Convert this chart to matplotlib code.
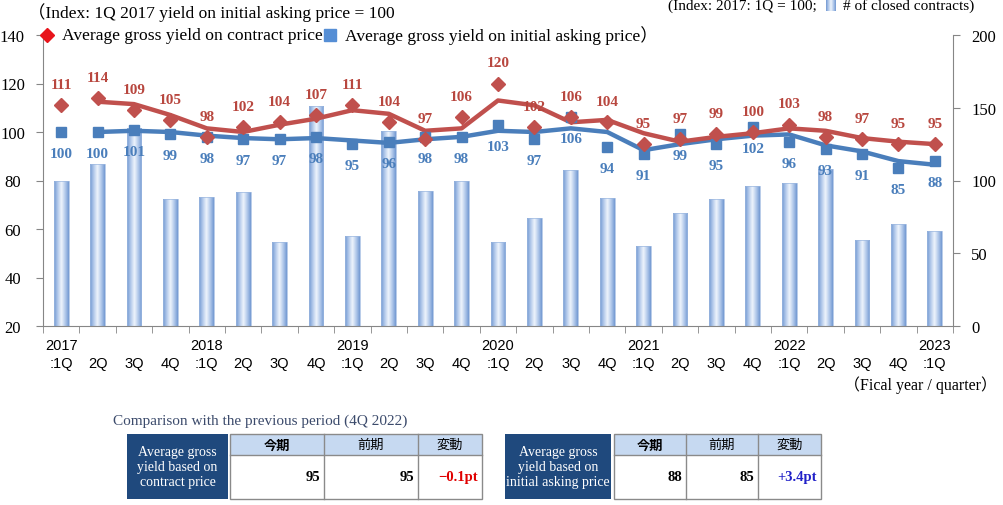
import numpy as np
import pandas as pd
import matplotlib
matplotlib.use("Agg")
import matplotlib.pyplot as plt
from matplotlib.colors import LinearSegmentedColormap
from matplotlib.patches import Rectangle
from matplotlib.ticker import FixedLocator

# ---------------- data ----------------
tick_labels = ["2017\n:1Q", "\n2Q", "\n3Q", "\n4Q",
               "2018\n:1Q", "\n2Q", "\n3Q", "\n4Q",
               "2019\n:1Q", "\n2Q", "\n3Q", "\n4Q",
               "2020\n:1Q", "\n2Q", "\n3Q", "\n4Q",
               "2021\n:1Q", "\n2Q", "\n3Q", "\n4Q",
               "2022\n:1Q", "\n2Q", "\n3Q", "\n4Q",
               "2023\n:1Q"]
contract_yield = [111, 114, 109, 105, 98, 102, 104, 107, 111, 104, 97, 106,
                  120, 102, 106, 104, 95, 97, 99, 100, 103, 98, 97, 95, 95]
asking_yield = [100, 100, 101, 99, 98, 97, 97, 98, 95, 96, 98, 98,
                103, 97, 106, 94, 91, 99, 95, 102, 96, 93, 91, 85, 88]
closed_contracts = [100, 111, 136, 87, 89, 92, 58, 151, 62, 134, 93, 100,
                    58, 74, 107, 88, 55, 78, 87, 96, 98, 108, 59, 70, 65]

table_cols = ["今期", "前期", "変動"]
contract_table = ["95", "95", "\u22120.1pt"]
asking_table = ["88", "85", "+3.4pt"]

# ---------------- style ----------------
SERIF = ["Liberation Serif", "Noto Sans CJK JP"]
SANS = ["Liberation Sans"]
CJK = ["Noto Sans CJK JP"]
RED = "#c0504d"
BLUE = "#4a7ebb"
GRAY = "#868686"

W, H = 1004, 506
fig = plt.figure(figsize=(W / 100, H / 100), dpi=100)
rect = [43 / W, 1 - 327 / H, 910 / W, 291 / H]

x = np.arange(len(tick_labels))

# bar axes (right scale)
axb = fig.add_axes(rect, zorder=1)
axl = fig.add_axes(rect, zorder=2, sharex=axb)
axl.patch.set_visible(False)

cmap = LinearSegmentedColormap.from_list("bar", ["#eef4fc", "#b3caeb", "#7399d2"])
bars = axb.bar(x, closed_contracts, width=0.41, color="none", edgecolor="#9db8e0", linewidth=0.5, zorder=2)
grad = np.abs(np.linspace(-1, 1, 64))[None, :]
for p in bars.patches:
    x0, w, h = p.get_x(), p.get_width(), p.get_height()
    im = axb.imshow(grad, extent=[x0, x0 + w, 0, h], aspect="auto", cmap=cmap,
                    vmin=0, vmax=1, zorder=1, interpolation="bilinear")
    im.set_clip_path(p)

axb.set_xlim(-0.5, len(x) - 0.5)
axb.set_ylim(0, 200)
axb.yaxis.tick_right()
axb.set_yticks(np.arange(0, 201, 50))
axb.tick_params(axis="y", direction="out", length=5, color=GRAY, pad=8, labelsize=12)
for t in axb.get_yticklabels():
    t.set_family(SERIF)
for s in ["left", "top"]:
    axb.spines[s].set_visible(False)
for s in ["right", "bottom"]:
    axb.spines[s].set_color(GRAY)
axb.set_xticks(x)
axb.set_xticklabels(tick_labels, family=SANS, fontsize=10.5, linespacing=1.35)
axb.xaxis.set_minor_locator(FixedLocator(np.arange(-0.5, len(x), 1.0)))
axb.tick_params(axis="x", which="major", length=0, pad=9)
axb.tick_params(axis="x", which="minor", length=5, direction="out", color=GRAY)

# line axes (left scale)
axl.set_ylim(20, 140)
axl.set_yticks(np.arange(20, 141, 20))
axl.tick_params(axis="y", direction="out", length=5, color=GRAY, pad=17, labelsize=12)
for t in axl.get_yticklabels():
    t.set_family(SERIF)
    t.set_ha("center")
axl.tick_params(axis="x", which="both", bottom=False, labelbottom=False)
for s in ["right", "top", "bottom"]:
    axl.spines[s].set_visible(False)
axl.spines["left"].set_color(GRAY)

ma_contract = pd.Series(contract_yield).rolling(2).mean()
ma_asking = pd.Series(asking_yield).rolling(2).mean()
axl.plot(x, ma_asking, color=BLUE, lw=3.2, solid_joinstyle="round", solid_capstyle="round", zorder=3)
axl.plot(x, ma_contract, color=RED, lw=3.2, solid_joinstyle="round", solid_capstyle="round", zorder=3)
axl.plot(x, asking_yield, ls="none", marker="s", ms=7.5, color=BLUE, zorder=4)
axl.plot(x, contract_yield, ls="none", marker="D", ms=7, color=RED, zorder=4)

for i, v in enumerate(contract_yield):
    axl.annotate(str(v), (i, v), xytext=(0, 15), textcoords="offset points", ha="center", va="center",
                 color="#b8473f", fontsize=11, fontweight="bold", family=SERIF, zorder=5)
for i, v in enumerate(asking_yield):
    axl.annotate(str(v), (i, v), xytext=(0, -15.5), textcoords="offset points", ha="center", va="center",
                 color=BLUE, fontsize=11, fontweight="bold", family=SERIF, zorder=5)

# ---------------- overlay (texts, legend, tables) ----------------
ov = fig.add_axes([0, 0, 1, 1], zorder=5)
ov.set_xlim(0, W)
ov.set_ylim(H, 0)
ov.axis("off")

ov.text(28, 13, "（Index: 1Q 2017 yield on initial asking price = 100", family=SERIF, fontsize=12.5,
        ha="left", va="center")
ov.plot([47], [36], marker="D", ms=7, color="#e8141b", ls="none")
ov.text(62, 36, "Average gross yield on contract price", family=SERIF, fontsize=12.6, ha="left", va="center")
ov.plot([330], [36], marker="s", ms=8, color="#558ed5", ls="none")
ov.text(345, 36, "Average gross yield on initial asking price）", family=SERIF, fontsize=12.6,
        ha="left", va="center")

ov.text(668, 6, "(Index: 2017: 1Q = 100; ", family=SERIF, fontsize=11, ha="left", va="center")
icon = Rectangle((826, 1), 10, 11, facecolor="none", edgecolor="none")
ov.add_patch(icon)
imi = ov.imshow(grad, extent=[826, 836, 12, 1], aspect="auto", cmap=cmap, vmin=0, vmax=1)
imi.set_clip_path(icon)
ov.text(974, 6, "# of closed contracts)", family=SERIF, fontsize=11, ha="right", va="center")

ov.text(997, 385, "（Fical year / quarter）", family=SERIF, fontsize=11.5, ha="right", va="center")

ov.text(113, 421, "Comparison with the previous period (4Q 2022)", family=SERIF, fontsize=11,
        color="#3b4a6b", ha="left", va="center")

DARK = "#1f497d"
HEAD = "#c6d9f1"
LINE = "#8a8a8a"


def draw_table(dx0, dx1, cols, name, values, change_color):
    ov.add_patch(Rectangle((dx0, 435), dx1 - dx0, 65, facecolor=DARK, edgecolor="none"))
    ov.text((dx0 + dx1) / 2, 468, name, color="white", family=SERIF, fontsize=10, ha="center",
            va="center", linespacing=1.2)
    gx0, gx1 = cols[0], cols[-1]
    ov.add_patch(Rectangle((gx0, 435), gx1 - gx0, 21, facecolor=HEAD, edgecolor="none"))
    ov.add_patch(Rectangle((gx0, 435), gx1 - gx0, 65, facecolor="none", edgecolor=LINE, lw=1))
    ov.plot([gx0, gx1], [456, 456], color=LINE, lw=1)
    for c in cols[1:-1]:
        ov.plot([c, c], [435, 500], color=LINE, lw=1)
    for k in range(3):
        cx = (cols[k] + cols[k + 1]) / 2
        ov.text(cx, 445.5, table_cols[k], family=CJK, fontsize=9.5,
                fontweight="bold" if k == 0 else "normal", ha="center", va="center")
        color = "black" if k < 2 else change_color
        ov.text(cols[k + 1] - 4, 478, values[k], family=SERIF, fontsize=10.5, fontweight="bold",
                color=color, ha="right", va="center")


draw_table(127, 228, [230, 324, 418, 482], "Average gross\nyield based on\ncontract price",
           contract_table, "#e00000")
draw_table(505, 611, [614, 686, 758, 821], "Average gross\nyield based on\ninitial asking price",
           asking_table, "#2020c8")

fig.savefig("out.png", dpi=100)
